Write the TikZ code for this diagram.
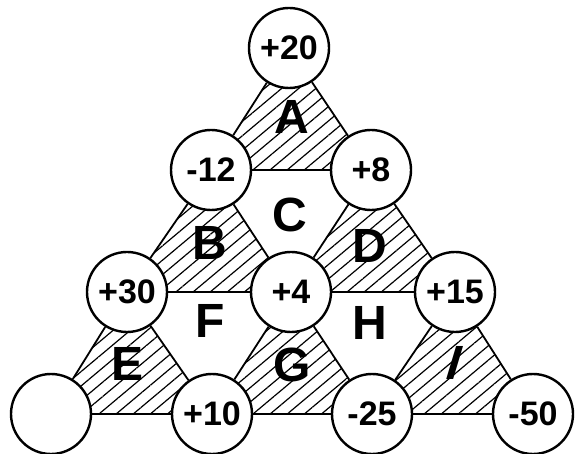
\documentclass[tikz,border=0pt]{standalone}
\usepackage{fontspec}
\setmainfont{Liberation Sans}
\usetikzlibrary{patterns.meta}
\tikzset{
  num/.style={circle,draw,line width=2.4pt,fill=white,minimum size=80pt,inner sep=0pt,
    font=\fontsize{34}{34}\selectfont\bfseries},
  edge/.style={line width=1.8pt},
  hatch/.style={pattern={Lines[angle=40,distance=11pt,line width=1.2pt]}},
  lett/.style={inner sep=0pt,font=\fontsize{48}{48}\selectfont\bfseries}
}
\begin{document}
\begin{tikzpicture}[x=1pt,y=-1pt]
\useasboundingbox (0,0) rectangle (579,454);
% centres
\coordinate (p1) at (289,48);
\coordinate (p2) at (211,170);
\coordinate (p3) at (371,170);
\coordinate (p4) at (127,292);
\coordinate (p5) at (291,292);
\coordinate (p6) at (455,292);
\coordinate (p7) at (51,414);
\coordinate (p8) at (212,414);
\coordinate (p9) at (372,414);
\coordinate (p10) at (533,414);
% hatched triangles
\fill[hatch] (p1) -- (p2) -- (p3) -- cycle;
\fill[hatch] (p2) -- (p4) -- (p5) -- cycle;
\fill[hatch] (p3) -- (p5) -- (p6) -- cycle;
\fill[hatch] (p4) -- (p7) -- (p8) -- cycle;
\fill[hatch] (p5) -- (p8) -- (p9) -- cycle;
\fill[hatch] (p6) -- (p9) -- (p10) -- cycle;
% circles
\node[num] (c1) at (p1) {+20};
\node[num] (c2) at (p2) {-12};
\node[num] (c3) at (p3) {+8};
\node[num] (c4) at (p4) {+30};
\node[num] (c5) at (p5) {+4};
\node[num] (c6) at (p6) {+15};
\node[num] (c7) at (p7) {};
\node[num] (c8) at (p8) {+10};
\node[num] (c9) at (p9) {-25};
\node[num] (c10) at (p10) {-50};
% edges
\draw[edge] (c1) -- (c2); \draw[edge] (c1) -- (c3); \draw[edge] (c2) -- (c3);
\draw[edge] (c2) -- (c4); \draw[edge] (c2) -- (c5); \draw[edge] (c4) -- (c5);
\draw[edge] (c3) -- (c5); \draw[edge] (c3) -- (c6); \draw[edge] (c5) -- (c6);
\draw[edge] (c4) -- (c7); \draw[edge] (c4) -- (c8); \draw[edge] (c7) -- (c8);
\draw[edge] (c5) -- (c8); \draw[edge] (c5) -- (c9); \draw[edge] (c8) -- (c9);
\draw[edge] (c6) -- (c9); \draw[edge] (c6) -- (c10); \draw[edge] (c9) -- (c10);
% letters
\node[lett] (lA) at (292,117) {A};
\node[lett] (lB) at (210,243) {B};
\node[lett] (lC) at (290,215) {C};
\node[lett] (lD) at (370,246) {D};
\node[lett] (lE) at (128,364) {E};
\node[lett] (lF) at (210,321) {F};
\node[lett] (lG) at (292,365) {G};
\node[lett] (lH) at (370,323) {H};
\node[lett,xslant=0.3] (lI) at (455,363) {I};
\end{tikzpicture}
\end{document}
